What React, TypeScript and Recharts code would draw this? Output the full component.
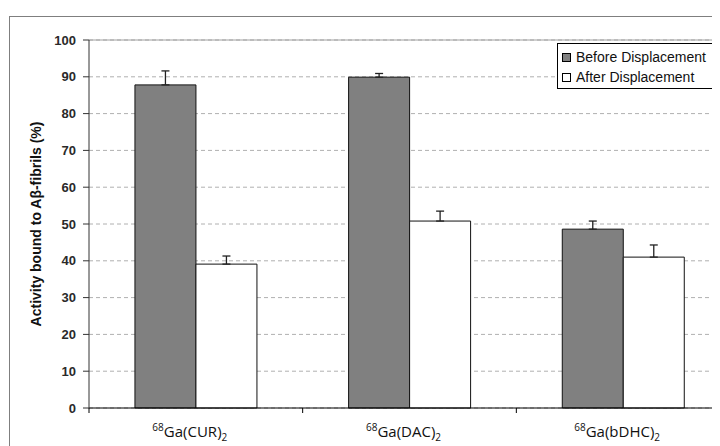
import React from 'react';
import { BarChart, Bar, XAxis, YAxis, CartesianGrid, ErrorBar, ReferenceLine } from 'recharts';

document.body.style.overflow = 'hidden';

const compounds = ['CUR', 'DAC', 'bDHC'];
const beforeValues = [87.8, 89.9, 48.6];
const beforeErrors = [3.8, 1.0, 2.2];
const afterValues = [39.1, 50.8, 41.0];
const afterErrors = [2.2, 2.7, 3.3];
const yTicks = [0, 10, 20, 30, 40, 50, 60, 70, 80, 90, 100];
const seriesNames = ['Before Displacement', 'After Displacement'];
const seriesColors = ['#808080', '#ffffff'];

const data = compounds.map((c, i) => ({
  name: c,
  before: beforeValues[i],
  beforeErr: [0, beforeErrors[i]],
  after: afterValues[i],
  afterErr: [0, afterErrors[i]],
}));

const CompoundTick = (props: any) => {
  const { x, y, payload, width } = props;
  const band = width / compounds.length;
  const axisY = y - 4;
  return (
    <g>
      <line x1={x - band / 2} x2={x - band / 2} y1={axisY - 4} y2={axisY + 1} stroke="#000" />
      <text x={x - 6} y={axisY + 25} textAnchor="middle" fill="#111" fontFamily="'Open Sans', sans-serif">
        <tspan fontSize={10} dy={-6}>68</tspan>
        <tspan fontSize={15} dy={6}>Ga({payload.value})</tspan>
        <tspan fontSize={10} dy={4}>2</tspan>
      </text>
    </g>
  );
};

export default function App() {
  return (
    <div style={{ position: 'relative', width: 712, height: 438, overflow: 'hidden', fontFamily: 'Arial, "Liberation Sans", sans-serif' }}>
      <div style={{ position: 'absolute', left: 1, top: 8, width: 760, height: 470, border: '1px solid #7f7f7f' }} />
      <div style={{ position: 'absolute', left: 2, top: 9 }}>
        <BarChart
          width={740}
          height={440}
          data={data}
          margin={{ top: 23, right: 20, left: 0, bottom: 0 }}
          barCategoryGap="21.5%"
          barGap={0}
        >
          <CartesianGrid vertical={false} stroke="#b0b0b0" strokeDasharray="4 3" />
          <ReferenceLine y={100} stroke="#a0a0a0" />
          <XAxis
            dataKey="name"
            height={49}
            axisLine={{ stroke: '#000' }}
            tickLine={false}
            tick={<CompoundTick />}
            interval={0}
          />
          <YAxis
            width={79}
            domain={[0, 100]}
            ticks={yTicks}
            interval={0}
            tickSize={6}
            tickMargin={7}
            axisLine={{ stroke: '#333' }}
            tickLine={{ stroke: '#333' }}
            tick={{ fontSize: 13, fontWeight: 'bold', fill: '#2a2a2a' }}
            label={{
              value: 'Activity bound to Aβ-fibrils (%)',
              angle: -90,
              position: 'insideLeft',
              offset: 26,
              style: { textAnchor: 'middle', fontSize: 14, fontWeight: 'bold', fill: '#111' },
            }}
          />
          <Bar dataKey="before" name={seriesNames[0]} fill={seriesColors[0]} stroke="#111" strokeWidth={1} isAnimationActive={false}>
            <ErrorBar dataKey="beforeErr" width={4} stroke="#222" strokeWidth={1.3} />
          </Bar>
          <Bar dataKey="after" name={seriesNames[1]} fill={seriesColors[1]} stroke="#111" strokeWidth={1} isAnimationActive={false}>
            <ErrorBar dataKey="afterErr" width={4} stroke="#222" strokeWidth={1.3} />
          </Bar>
        </BarChart>
      </div>
      <div
        style={{
          position: 'absolute',
          left: 549,
          top: 35,
          width: 170,
          height: 46,
          border: '1px solid #000',
          background: '#fff',
          fontSize: 14,
          color: '#111',
          padding: '3px 0 0 4px',
          boxSizing: 'border-box',
        }}
      >
        {seriesNames.map((n, i) => (
          <div key={n} style={{ display: 'flex', alignItems: 'center', height: 20 }}>
            <span style={{ width: 7, height: 7, border: '1px solid #000', background: seriesColors[i], marginRight: 5 }} />
            <span>{n}</span>
          </div>
        ))}
      </div>
    </div>
  );
}
